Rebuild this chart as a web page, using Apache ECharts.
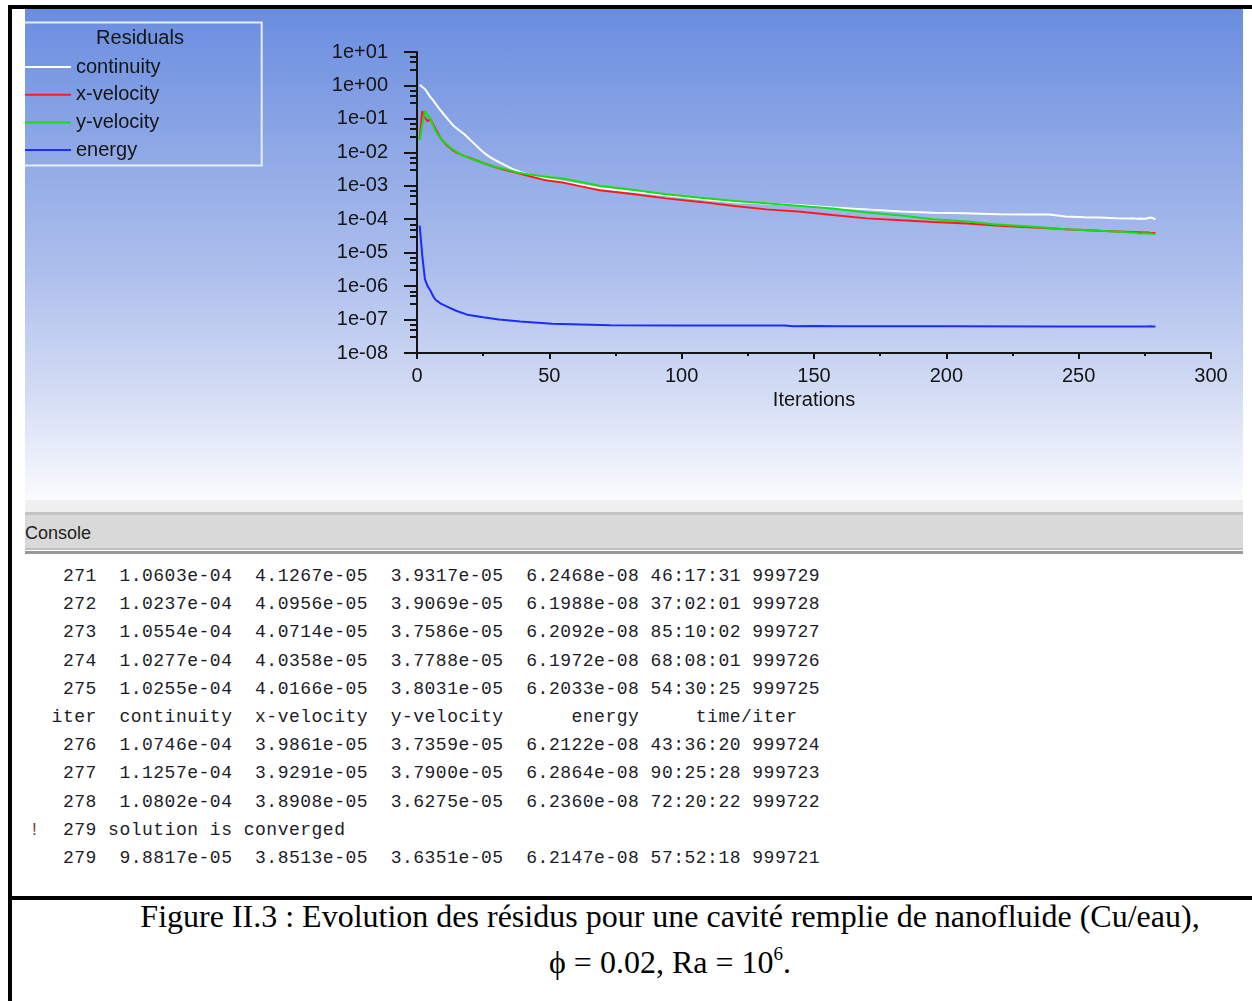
<!DOCTYPE html>
<html>
<head>
<meta charset="utf-8">
<script src="https://cdn.jsdelivr.net/npm/echarts@6/dist/echarts.min.js"></script>
<style>
  body { margin: 0; width: 1252px; height: 1001px; position: relative; background: #fff; overflow: hidden; }
  .bar { position: absolute; background: #000; }
  #chart {
    position: absolute; left: 25px; top: 9px; width: 1218px; height: 491px;
    background: linear-gradient(to bottom, #6a8de0 0%, #8ea8e6 28%, #abbdec 52%, #d3dcf4 78%, #fafbfe 100%);
  }
  #strip { position: absolute; left: 25px; top: 500px; width: 1218px; height: 12px; background: #efefef; }
  #header {
    position: absolute; left: 25px; top: 512px; width: 1218px; height: 33px;
    background: #d9d9d9; border-top: 3px solid #c4c4c4; border-bottom: 2px solid #c0c0c0;
    font: 18px "Liberation Sans", Arial, sans-serif; color: #222;
    line-height: 36px;
  }
  #header2 { position: absolute; left: 25px; top: 551px; width: 1218px; height: 3px; background: #999; }
  #console {
    position: absolute; left: 29px; top: 562px; margin: 0;
    font: 18px "Liberation Mono", monospace; letter-spacing: 0.5px;
    line-height: 28.2px; color: #1c1c28; white-space: pre;
  }
  .cap { position: absolute; left: 88px; width: 1164px; text-align: center;
    font: 32px "Liberation Serif", "Times New Roman", serif; color: #000; }
  .cap sup { font-size: 19px; vertical-align: 13px; line-height: 0; }
</style>
</head>
<body>
<div class="bar" style="left:8px;top:5px;width:1244px;height:4px"></div>
<div class="bar" style="left:8px;top:5px;width:4px;height:996px"></div>
<div class="bar" style="left:8px;top:896px;width:1244px;height:4px"></div>
<div id="chart"></div>
<div id="strip"></div>
<div id="header">Console</div>
<div id="header2"></div>
<pre id="console"></pre>
<div class="cap" style="top:898px">Figure II.3 : Evolution des résidus pour une cavité remplie de nanofluide (Cu/eau),</div>
<div class="cap" style="top:944px">&#981; = 0.02, Ra = 10<sup>6</sup>.</div>
<script>
// residuals [iteration, value]
var continuity = [
  [1, 1.05], [2, 0.9], [3, 0.78], [4, 0.6], [5, 0.45], [6, 0.37], [8, 0.22], [10, 0.14],
  [12, 0.09], [14, 0.06], [16, 0.045], [18, 0.034], [20, 0.024], [22, 0.017], [24, 0.012],
  [26, 0.0088], [28, 0.0068], [30, 0.0056], [33, 0.0042], [36, 0.0032], [39, 0.0026],
  [42, 0.0022], [46, 0.0018], [50, 0.00155], [56, 0.0013], [62, 0.00105], [69, 8.4e-4],
  [76, 7.3e-4], [82, 6.6e-4], [94, 5.2e-4], [107, 4.0e-4], [120, 3.2e-4], [132, 2.95e-4],
  [145, 2.6e-4], [157, 2.25e-4], [170, 1.97e-4], [183, 1.7e-4], [195, 1.57e-4], [207, 1.5e-4],
  [220, 1.42e-4], [232, 1.38e-4], [239, 1.38e-4], [245, 1.2e-4], [252, 1.15e-4], [258, 1.12e-4],
  [264, 1.07e-4], [270, 1.06e-4], [271, 1.0603e-4], [272, 1.0237e-4], [273, 1.0554e-4],
  [274, 1.0277e-4], [275, 1.0255e-4], [276, 1.0746e-4], [277, 1.1257e-4], [278, 1.0802e-4],
  [279, 9.8817e-5]
];
var xVelocity = [
  [1, 0.024], [2, 0.17], [3, 0.11], [4, 0.085], [5, 0.1], [6, 0.07], [7, 0.05], [8, 0.036],
  [9, 0.026], [10, 0.021], [11, 0.017], [13, 0.0125], [15, 0.0098], [18, 0.0077], [21, 0.0063],
  [25, 0.0048], [29, 0.0037], [33, 0.003], [38, 0.0024], [43, 0.0019], [48, 0.0015],
  [55, 0.00125], [62, 9.6e-4], [69, 7.4e-4], [82, 5.6e-4], [94, 4.2e-4], [107, 3.3e-4],
  [120, 2.5e-4], [132, 1.97e-4], [145, 1.68e-4], [157, 1.34e-4], [170, 1.06e-4], [183, 9.3e-5],
  [195, 8.3e-5], [208, 7.4e-5], [220, 6.4e-5], [235, 5.6e-5], [247, 4.9e-5], [258, 4.5e-5],
  [265, 4.3e-5], [270, 4.15e-5], [271, 4.1267e-5], [272, 4.0956e-5], [273, 4.0714e-5],
  [274, 4.0358e-5], [275, 4.0166e-5], [276, 3.9861e-5], [277, 3.9291e-5], [278, 3.8908e-5],
  [279, 3.8513e-5]
];
var yVelocity = [
  [1, 0.023], [2, 0.066], [3, 0.17], [4, 0.13], [5, 0.1], [6, 0.065], [7, 0.045], [8, 0.033],
  [9, 0.026], [10, 0.021], [11, 0.018], [13, 0.013], [15, 0.0103], [17, 0.0083], [20, 0.0066],
  [22, 0.0059], [25, 0.0048], [27, 0.0042], [30, 0.0036], [33, 0.0032], [38, 0.0025],
  [42, 0.0022], [48, 0.0019], [55, 0.00166], [62, 0.0013], [69, 0.001], [82, 7.5e-4],
  [94, 5.6e-4], [107, 4.4e-4], [120, 3.5e-4], [132, 3.0e-4], [145, 2.5e-4], [157, 2.1e-4],
  [170, 1.6e-4], [183, 1.3e-4], [195, 1.0e-4], [208, 8.5e-5], [218, 7.1e-5], [233, 6.0e-5],
  [245, 5.0e-5], [258, 4.5e-5], [265, 4.2e-5], [270, 4.0e-5], [271, 3.9317e-5],
  [272, 3.9069e-5], [273, 3.7586e-5], [274, 3.7788e-5], [275, 3.8031e-5], [276, 3.7359e-5],
  [277, 3.79e-5], [278, 3.6275e-5], [279, 3.6351e-5]
];
var energy = [
  [1, 6.5e-5], [2, 8e-6], [3, 1.6e-6], [4, 1.0e-6], [5, 7.5e-7], [6, 5.2e-7], [7, 3.9e-7],
  [9, 3.0e-7], [12, 2.3e-7], [15, 1.8e-7], [19, 1.4e-7], [25, 1.17e-7], [31, 1.0e-7],
  [39, 8.7e-8], [51, 7.5e-8], [73, 6.7e-8], [100, 6.6e-8], [139, 6.6e-8], [142, 6.3e-8],
  [150, 6.4e-8], [160, 6.3e-8], [200, 6.3e-8], [240, 6.25e-8], [270, 6.25e-8],
  [271, 6.2468e-8], [272, 6.1988e-8], [273, 6.2092e-8], [274, 6.1972e-8], [275, 6.2033e-8],
  [276, 6.2122e-8], [277, 6.2864e-8], [278, 6.236e-8], [279, 6.2147e-8]
];
var seriesNames = ["continuity", "x-velocity", "y-velocity", "energy"];
var seriesColors = ["#ffffff", "#ff1a1a", "#12e012", "#1a2cff"];
var yMajorTicks = [1e-8, 1e-7, 1e-6, 1e-5, 1e-4, 1e-3, 1e-2, 1e-1, 1, 10];
var yMinorFactors = [3, 5, 7];

// console listing (last iterations)
var consoleLines = [
  "   271  1.0603e-04  4.1267e-05  3.9317e-05  6.2468e-08 46:17:31 999729",
  "   272  1.0237e-04  4.0956e-05  3.9069e-05  6.1988e-08 37:02:01 999728",
  "   273  1.0554e-04  4.0714e-05  3.7586e-05  6.2092e-08 85:10:02 999727",
  "   274  1.0277e-04  4.0358e-05  3.7788e-05  6.1972e-08 68:08:01 999726",
  "   275  1.0255e-04  4.0166e-05  3.8031e-05  6.2033e-08 54:30:25 999725",
  "  iter  continuity  x-velocity  y-velocity      energy     time/iter",
  "   276  1.0746e-04  3.9861e-05  3.7359e-05  6.2122e-08 43:36:20 999724",
  "   277  1.1257e-04  3.9291e-05  3.7900e-05  6.2864e-08 90:25:28 999723",
  "   278  1.0802e-04  3.8908e-05  3.6275e-05  6.2360e-08 72:20:22 999722",
  "!  279 solution is converged",
  "   279  9.8817e-05  3.8513e-05  3.6351e-05  6.2147e-08 57:52:18 999721"
];

document.getElementById("console").innerHTML = consoleLines.map(function (l) {
  if (l.charAt(0) === "!") return '<span style="color:#8a3a3a">!</span>' + l.slice(1);
  return l;
}).join("\n");

var uiFont = "'Liberation Sans', Arial, sans-serif";

var minorTicks = [];
for (var i = 0; i < yMajorTicks.length - 1; i++) {
  yMinorFactors.forEach(function (f) { minorTicks.push(yMajorTicks[i] * f); });
}

function expLabel(v) {
  var e = Math.round(Math.log10(v));
  var a = Math.abs(e);
  return "1e" + (e < 0 ? "-" : "+") + (a < 10 ? "0" : "") + a;
}

var myChart = echarts.init(document.getElementById("chart"), null, { renderer: "canvas" });
var allData = [continuity, xVelocity, yVelocity, energy];

var option = {
  animation: false,
  backgroundColor: "transparent",
  grid: { left: 392, right: 32, top: 43, bottom: 147 },
  legend: {
    orient: "vertical",
    left: 0,
    top: 46,
    padding: 0,
    itemWidth: 46,
    itemHeight: 2,
    itemGap: 3.7,
    icon: "rect",
    textStyle: { fontFamily: uiFont, fontSize: 20, color: "#141414", lineHeight: 24 },
    data: seriesNames
  },
  graphic: [
    {
      type: "rect",
      shape: { x: -4, y: 13.5, width: 240.7, height: 143 },
      style: { fill: "none", stroke: "#e6ecf8", lineWidth: 2 }
    },
    {
      type: "text",
      x: 115,
      y: 29,
      style: {
        text: "Residuals", fill: "#141414", font: "20px " + uiFont,
        textAlign: "center", textVerticalAlign: "middle"
      }
    }
  ],
  xAxis: {
    type: "value",
    min: 0,
    max: 300,
    interval: 50,
    name: "Iterations",
    nameLocation: "middle",
    nameGap: 30,
    nameTextStyle: { fontFamily: uiFont, fontSize: 20, color: "#141414" },
    axisLine: { lineStyle: { color: "#151515", width: 2 } },
    axisTick: { length: 6, lineStyle: { color: "#151515", width: 2 } },
    minorTick: { show: true, splitNumber: 2, length: 3, lineStyle: { color: "#151515", width: 2 } },
    axisLabel: { fontFamily: uiFont, fontSize: 20, color: "#141414", margin: 13 },
    splitLine: { show: false }
  },
  yAxis: [
    {
      type: "log",
      logBase: 10,
      min: 1e-8,
      max: 10,
      axisLine: { show: true, lineStyle: { color: "#151515", width: 2 } },
      axisTick: { show: true, length: 13, customValues: yMajorTicks, lineStyle: { color: "#151515", width: 2 } },
      axisLabel: {
        customValues: yMajorTicks, formatter: expLabel, margin: 29,
        fontFamily: uiFont, fontSize: 20, color: "#141414"
      },
      splitLine: { show: false }
    },
    {
      type: "log",
      logBase: 10,
      min: 1e-8,
      max: 10,
      position: "left",
      axisLine: { show: false },
      axisTick: { show: true, length: 7, customValues: minorTicks, lineStyle: { color: "#151515", width: 2 } },
      axisLabel: { show: false },
      splitLine: { show: false }
    }
  ],
  series: seriesNames.map(function (name, k) {
    return {
      name: name,
      type: "line",
      yAxisIndex: 0,
      data: allData[k],
      showSymbol: false,
      symbol: "none",
      color: seriesColors[k],
      lineStyle: { width: 2, color: seriesColors[k] },
      z: 2 + k
    };
  })
};
myChart.setOption(option);
</script>
</body>
</html>
